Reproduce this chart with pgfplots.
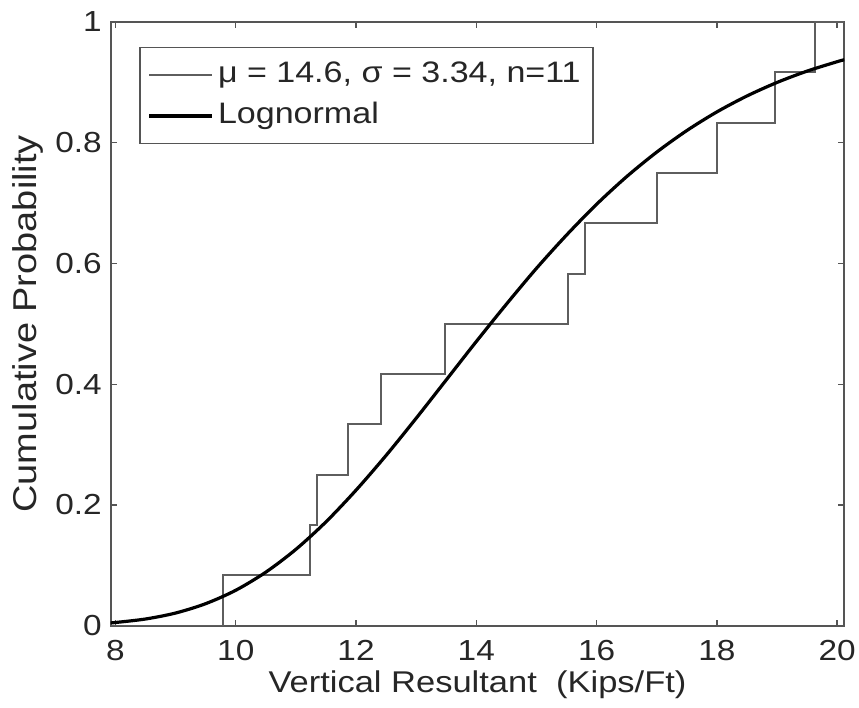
\documentclass[border=0pt]{standalone}
\usepackage{fontspec}
\setmainfont[FakeStretch=1.15]{Liberation Sans}
\usepackage{pgfplots}
\pgfplotsset{compat=1.18}
\definecolor{axgray}{HTML}{555555}
\definecolor{stepgray}{HTML}{5E5E5E}
\definecolor{txt}{HTML}{262626}
\newcommand{\tickfont}{\fontsize{14.5}{17}\selectfont}
\begin{document}
\begin{tikzpicture}[x=1pt,y=1pt]
\useasboundingbox (0,0) rectangle (429.5,354);
\begin{axis}[
  at={(55.35pt,41.15pt)}, anchor=south west,
  scale only axis, width=366.8pt, height=301.85pt,
  xmin=7.92, xmax=20.12, ymin=0, ymax=1,
  xtick={8,10,12,14,16,18,20},
  xticklabels={8,10,12,14,16,18,20},
  ytick={0,0.2,0.4,0.6,0.8,1},
  yticklabels={0,0.2,0.4,0.6,0.8,1},
  tick align=inside, major tick length=3pt,
  tick style={axgray, line width=0.7pt},
  axis line style={axgray, line width=1pt},
  every tick label/.append style={font=\tickfont, text=txt},
  xticklabel style={anchor=base, yshift=-17.2pt},
  yticklabel style={anchor=east, xshift=-1pt},
  xlabel={Vertical Resultant\ \ (Kips/Ft)},
  ylabel={Cumulative Probability},
  every axis x label/.style={at={(axis description cs:0.5,0)}, anchor=base, yshift=-33.6pt,
     font=\fontsize{15}{18}\selectfont, text=txt},
  every axis y label/.style={at={(axis description cs:0,0.5)}, anchor=base, rotate=90, yshift=36.9pt,
     font=\fontsize{16.5}{19}\selectfont, text=txt},
  legend style={at={(0.0386,0.959)}, anchor=north west, draw=axgray, line width=0.8pt,
     font=\fontsize{14.8}{17}\selectfont, text=txt, inner xsep=4pt, inner ysep=5.5pt, row sep=4pt,
     nodes={text height=10.5pt, text depth=3pt, inner ysep=1.5pt}},
  legend cell align=left,
  legend image code/.code={\draw[#1] (0pt,0pt) -- (31.5pt,0pt);},
]
\addplot[const plot, stepgray, line width=1pt] coordinates {
(7.92,0) (9.79,0.08333) (11.23,0.16667) (11.35,0.25) (11.87,0.33333)
(12.41,0.41667) (13.48,0.5) (15.52,0.58333) (15.81,0.66667) (17.00,0.75)
(18.01,0.83333) (18.97,0.91667) (19.64,1) (20.12,1)};
\addlegendentry{μ = 14.6, σ = 3.34, n=11}
\addplot[smooth, black, line width=1.6pt] coordinates {
(7.92,0.0047) (8,0.0053) (8.5,0.0111) (9,0.0210) (9.5,0.0365) (10,0.0587)
(10.5,0.0887) (11,0.1265) (11.5,0.1720) (12,0.2245) (12.5,0.2821)
(13,0.3436) (13.5,0.4071) (14,0.4707) (14.5,0.5325) (15,0.5919)
(15.5,0.6470) (16,0.6980) (16.5,0.7438) (17,0.7844) (17.5,0.8201)
(18,0.8510) (18.5,0.8774) (19,0.8998) (19.5,0.9186) (20,0.9342) (20.12,0.9375)};
\addlegendentry{Lognormal}
\end{axis}
\end{tikzpicture}
\end{document}
